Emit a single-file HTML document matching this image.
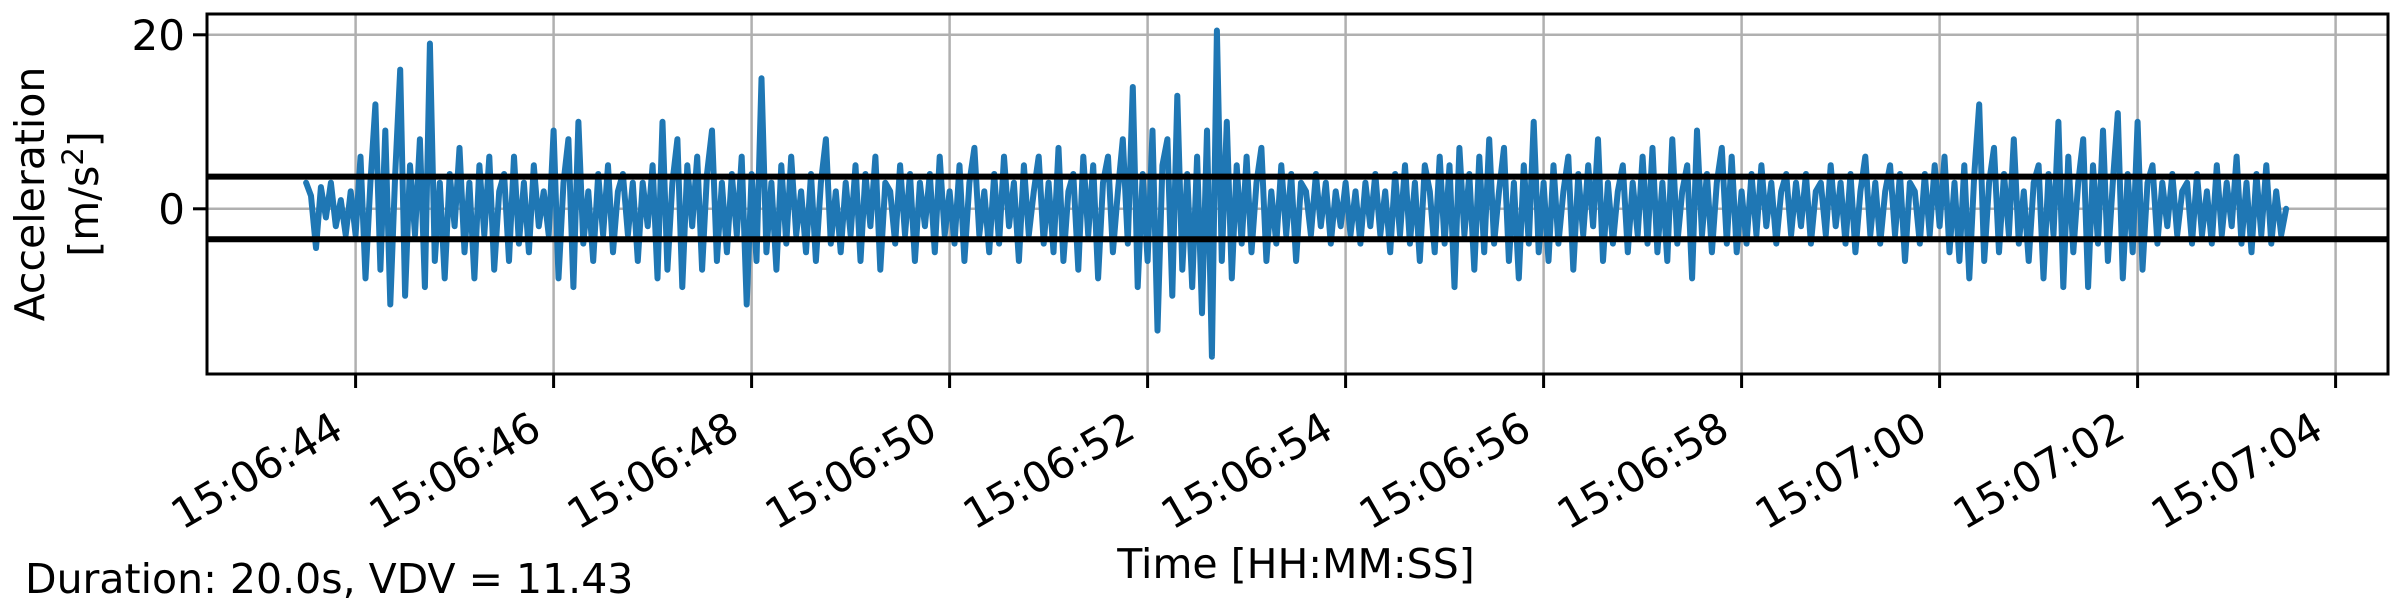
<!DOCTYPE html>
<html><head><meta charset="utf-8"><style>
html,body{margin:0;padding:0;background:#fff;}
svg{display:block;font-family:"DejaVu Sans","Liberation Sans",sans-serif;}
</style></head><body>
<svg id="chart" width="2400" height="600" viewBox="0 0 2400 600" xmlns="http://www.w3.org/2000/svg">
<g id="grid"></g>
<g id="series"></g>
<g id="thresholds"></g>
<rect x="207" y="14" width="2181" height="360" fill="none" stroke="#000" stroke-width="3"/>
<g id="xticks"></g>
<g id="yticks"></g>
<text x="1296" y="578" font-size="41" text-anchor="middle">Time [HH:MM:SS]</text>
<text transform="translate(44,194) rotate(-90)" font-size="41" text-anchor="middle">Acceleration</text>
<text transform="translate(98,194) rotate(-90)" font-size="41" text-anchor="middle">[m/s<tspan dy="-15" font-size="29">2</tspan><tspan dy="15">]</tspan></text>
<text x="25" y="593" font-size="41">Duration: 20.0s, VDV = 11.43</text>
</svg>
<script>
const startSec = 43.5;
const stepSec = 0.05;
const accel = [
3,1.5,-4.5,2.5,-1,3,-2,1,-3,2,
-3,6,-8,3,12,-7,9,-11,4,16,-10,5,-3,8,-9,19,-6,3,-8,4,
-2,7,-5,3,-8,5,-3,6,-7,2,4,-6,6,-4,3,-5,5,-2,2,-3,
9,-8,3,8,-9,10,-4,2,-6,4,-3,5,-5,2,4,-3,3,-6,3,-2,
5,-8,10,-7,3,8,-9,5,-2,6,-7,4,9,-6,3,-5,4,-3,6,-11,
4,-6,15,-5,3,-7,5,-4,6,-3,2,-5,4,-6,3,8,-4,2,-5,3,
-3,5,-6,4,-2,6,-7,3,2,-4,5,-3,4,-6,3,-2,4,-5,6,-3,
2,-4,5,-6,3,7,-3,2,-5,4,-4,6,-2,3,-6,5,-3,2,6,-4,
3,-5,7,-6,2,4,-7,6,-3,5,-8,3,6,-5,2,8,-4,14,-9,4,
-6,9,-14,5,8,-10,13,-7,4,-9,6,-12,9,-17,20.5,-6,10,-8,5,-4,
6,-5,3,7,-6,2,-4,5,-3,4,-6,3,2,-3,4,-2,3,-4,2,-2,
3,-3,2,-4,3,-2,4,-3,2,-5,4,-3,5,-4,3,-6,5,2,-5,6,
-4,5,-9,7,-3,4,-7,6,-5,8,-4,2,7,-6,3,-8,5,-4,10,-5,
3,-6,5,-4,2,6,-7,4,-3,5,-2,8,-6,3,-4,2,5,-5,3,-3,
6,-4,7,-5,3,-6,8,-4,2,5,-8,9,-3,4,-5,3,7,-4,6,-5,
2,-4,4,-3,5,-2,3,-4,2,4,-3,3,-2,4,-4,2,3,-3,5,-2,
3,-4,4,-5,2,6,-3,3,-4,2,5,-3,4,-6,3,2,-4,4,-3,5,
-2,6,-5,3,-6,5,-8,4,12,-6,3,7,-5,4,-3,8,-4,2,-6,3,
5,-8,4,-3,10,-9,6,-5,3,8,-9,5,-4,9,-6,3,11,-8,4,-5,
10,-7,3,5,-4,3,-2,4,-3,2,3,-4,4,-3,2,-4,5,-3,3,-2,
6,-4,3,-5,4,-3,5,-4,2,-3,0
];
const thresholds = [3.7, -3.5];
const xTickSecs = [44,46,48,50,52,54,56,58,60,62,64];
const xTickLabels = ["15:06:44","15:06:46","15:06:48","15:06:50","15:06:52","15:06:54","15:06:56","15:06:58","15:07:00","15:07:02","15:07:04"];
const yTickVals = [0,20];
const yTickLabels = ["0","20"];

const NS = "http://www.w3.org/2000/svg";
const X0 = 207, X1 = 2388, Y0 = 14, Y1 = 374;
const xs = s => 355.6 + (s - 44) * 99;
const ys = v => 208.8 - v * 8.7;
function mk(tag, attrs, parent){ const e = document.createElementNS(NS, tag); for (const k in attrs) e.setAttribute(k, attrs[k]); parent.appendChild(e); return e; }

const grid = document.getElementById('grid');
const xt = document.getElementById('xticks');
xTickSecs.forEach((s, i) => {
  const x = xs(s);
  const gl = mk('line', {x1:x, x2:x, y1:Y0, y2:Y1, stroke:'#b0b0b0', 'stroke-width':2.5}, grid);
  
  
  const tk = mk('line', {x1:x, x2:x, y1:Y1, y2:Y1+14, stroke:'#000', 'stroke-width':3}, xt);
  
  
  const t = mk('text', {x:x-10, y:436, 'font-size':42, 'text-anchor':'end', transform:`rotate(-30 ${x-10} 436)`}, xt);
  t.textContent = xTickLabels[i];
  
  
});
const yt = document.getElementById('yticks');
yTickVals.forEach((v, i) => {
  const y = ys(v);
  const gl = mk('line', {x1:X0, x2:X1, y1:y, y2:y, stroke:'#b0b0b0', 'stroke-width':2.5}, grid);
  
  
  const tk = mk('line', {x1:X0-14, x2:X0, y1:y, y2:y, stroke:'#000', 'stroke-width':3}, yt);
  
  
  const t = mk('text', {x:X0-22, y:y+15, 'font-size':42, 'text-anchor':'end'}, yt);
  t.textContent = yTickLabels[i];
  
  
});
const series = document.getElementById('series');
const pts = accel.map((v, i) => xs(startSec + i * stepSec).toFixed(1) + ',' + ys(v).toFixed(1)).join(' ');
const pl = mk('polyline', {points:pts, fill:'none', stroke:'#1f77b4', 'stroke-width':6, 'stroke-linejoin':'round', 'stroke-linecap':'round'}, series);


const th = document.getElementById('thresholds');
thresholds.forEach(v => {
  const l = mk('line', {x1:X0, x2:X1, y1:ys(v), y2:ys(v), stroke:'#000', 'stroke-width':6}, th);
  
  
});
</script>
</body></html>
